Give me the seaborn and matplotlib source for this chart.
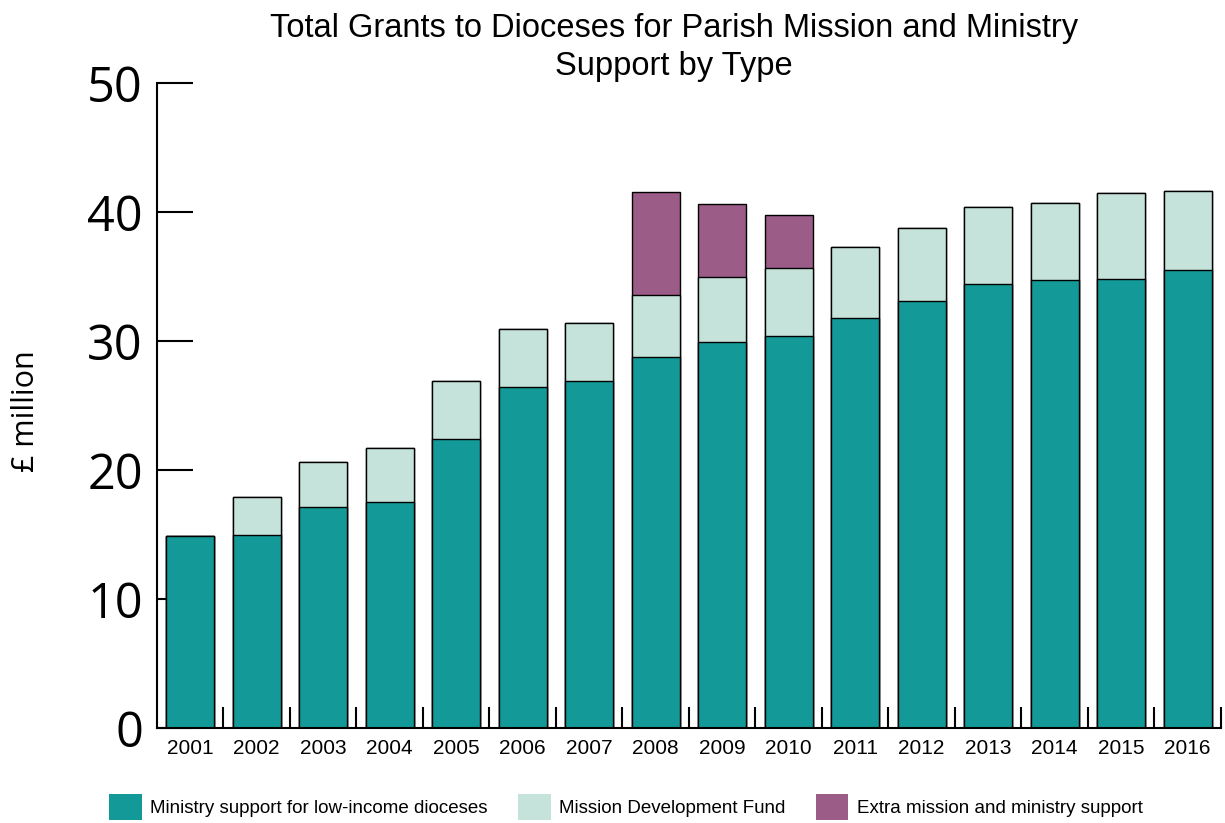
import numpy as np
import pandas as pd
import matplotlib.pyplot as plt
import seaborn as sns
from matplotlib.patches import Patch
from matplotlib.ticker import FixedLocator

# === Data (£ million) ===
years = [str(y) for y in range(2001, 2017)]
low_income = [14.9, 15.0, 17.1, 17.5, 22.4, 26.4, 26.9, 28.8, 29.9, 30.4,
              31.8, 33.1, 34.4, 34.7, 34.8, 35.5]
mission_dev = [0.0, 2.9, 3.5, 4.2, 4.5, 4.5, 4.5, 4.8, 5.1, 5.3,
               5.5, 5.7, 6.0, 6.0, 6.7, 6.1]
extra_support = [0.0, 0.0, 0.0, 0.0, 0.0, 0.0, 0.0, 7.95, 5.6, 4.1,
                 0.0, 0.0, 0.0, 0.0, 0.0, 0.0]
series_names = ["Ministry support for low-income dioceses",
                "Mission Development Fund",
                "Extra mission and ministry support"]
colors = ["#139A98", "#C5E3DA", "#9B5C87"]

df = pd.DataFrame({"year": years, "low": low_income,
                   "mdf": mission_dev, "extra": extra_support})
df["lvl1"] = df["low"]
df["lvl2"] = df["low"] + df["mdf"]
df["lvl3"] = df["lvl2"] + df["extra"]

sns.set_theme(style="white")
plt.rcParams["font.family"] = ["Liberation Sans", "DejaVu Sans"]
plt.rcParams["text.color"] = "black"
plt.rcParams["xtick.color"] = "black"
plt.rcParams["ytick.color"] = "black"

fig = plt.figure(figsize=(12.25, 8.23), dpi=100)
ax = fig.add_axes([0.128, 0.1154, 0.8687, 0.7837])

# stacked look: draw cumulative totals, tallest first
for col, c in zip(["lvl3", "lvl2", "lvl1"], colors[::-1]):
    sns.barplot(data=df, x="year", y=col, color=c, width=0.72,
                edgecolor="black", linewidth=1, saturation=1, ax=ax)

ax.set_xlim(-0.5, 15.5)
ax.set_ylim(0, 50)
ax.set_yticks([0, 10, 20, 30, 40, 50])
ax.tick_params(axis="y", direction="in", length=26, width=1.5,
               labelsize=35, pad=10, left=True, colors="black")
ax.tick_params(axis="x", which="major", length=0, labelsize=15, pad=8)
ax.xaxis.set_minor_locator(FixedLocator(np.arange(0.5, 16, 1)))
ax.tick_params(axis="x", which="minor", direction="in", length=15,
               width=1.5, bottom=True, color="black")
for lab in ax.get_yticklabels():
    lab.set_family(["Open Sans", "DejaVu Sans"])

for s in ["top", "right"]:
    ax.spines[s].set_visible(False)
for s in ["left", "bottom"]:
    ax.spines[s].set_color("black")
    ax.spines[s].set_linewidth(1.5)

ax.set_xlabel("")
ax.set_ylabel("")
fig.text(0.021, 0.50, "£ million", rotation=90, ha="center", va="center",
         fontsize=22, family=["Open Sans", "DejaVu Sans"])
fig.text(0.55, 0.942, "Total Grants to Dioceses for Parish Mission and Ministry\nSupport by Type",
         ha="center", va="center", fontsize=23.5, linespacing=1.3)

handles = [Patch(facecolor=c, edgecolor="none") for c in colors]
fig.legend(handles, series_names, loc="lower left", bbox_to_anchor=(0.083, -0.005),
           borderaxespad=0, ncol=3, frameon=False, fontsize=13.5,
           handlelength=1.75, handleheight=1.7, columnspacing=1.6,
           handletextpad=0.45)

plt.savefig("out.png", dpi=100)
plt.close()
